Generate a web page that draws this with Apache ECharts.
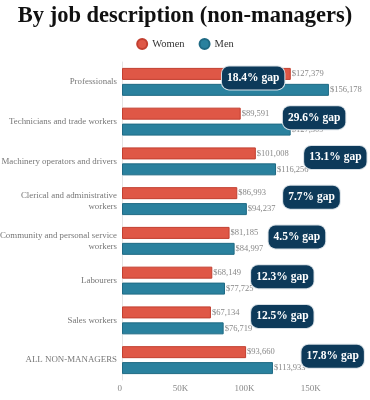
<!DOCTYPE html>
<html>
<head>
<meta charset="utf-8">
<script src="https://cdn.jsdelivr.net/npm/echarts@6/dist/echarts.min.js"></script>
<style>html,body{margin:0;padding:0;background:#fff}#c{width:370px;height:400px}</style>
</head>
<body>
<div id="c"></div>
<script>
var categories = ['Professionals', 'Technicians and trade workers', 'Machinery operators and drivers', 'Clerical and administrative\nworkers', 'Community and personal service\nworkers', 'Labourers', 'Sales workers', 'ALL NON-MANAGERS'];
var women = [127379, 89591, 101008, 86993, 81185, 68149, 67134, 93660];
var men = [156178, 127309, 116256, 94237, 84997, 77725, 76719, 113933];
var gapText = ['18.4% gap', '29.6% gap', '13.1% gap', '7.7% gap', '4.5% gap', '12.3% gap', '12.5% gap', '17.8% gap'];
var badgeX = [99000, 145000, 161000, 143000, 132000, 121000, 121000, 159000];
var xTicks = [0, 50000, 100000, 150000];

var font = '"Liberation Serif", "DejaVu Serif", serif';
var chart = echarts.init(document.getElementById('c'));
function money(v) { return '$' + v.toLocaleString('en-US'); }
chart.setOption({
  animation: false,
  title: {
    text: 'By job description (non-managers)',
    left: 'center', top: 0,
    textStyle: { fontFamily: font, fontWeight: 'bold', fontSize: 22.5, color: '#111' }
  },
  legend: {
    top: 33, left: 'center', icon: 'circle', itemWidth: 10, itemHeight: 10, itemGap: 14,
    textStyle: { fontFamily: font, fontSize: 10.5, color: '#333' },
    data: ['Women', 'Men']
  },
  grid: { left: 122, right: 9.5, top: 62, bottom: 20, containLabel: false, outerBoundsMode: 'none' },
  xAxis: {
    type: 'value', min: 0, max: 180000, interval: 50000,
    splitLine: { show: false }, axisLine: { show: false }, axisTick: { show: false },
    axisLabel: {
      fontFamily: font, fontSize: 9, color: '#888', align: 'right', margin: 4,
      formatter: function (v) { return xTicks.indexOf(v) < 0 ? '' : (v === 0 ? '0' : (v / 1000) + 'K'); }
    }
  },
  yAxis: {
    type: 'category', inverse: true, data: categories,
    axisLine: { show: true, lineStyle: { color: '#e4e4e4' } }, axisTick: { show: false },
    axisLabel: { fontFamily: font, fontSize: 8.9, color: '#777', margin: 5, lineHeight: 11, align: 'right' }
  },
  series: [
    {
      name: 'Women', type: 'bar', data: women, barWidth: 12, barGap: '33%',
      itemStyle: { color: '#df5746', borderColor: '#c23f30', borderWidth: 1 },
      label: { show: true, position: 'right', distance: 1, fontFamily: font, fontSize: 8.5, color: '#888', formatter: function (p) { return money(p.value); } }
    },
    {
      name: 'Men', type: 'bar', data: men, barWidth: 12,
      itemStyle: { color: '#2a819e', borderColor: '#1f6a84', borderWidth: 1 },
      label: { show: true, position: 'right', distance: 1, fontFamily: font, fontSize: 8.5, color: '#888', formatter: function (p) { return money(p.value); } }
    },
    {
      name: 'gap', type: 'scatter', symbolSize: 1, itemStyle: { color: 'rgba(0,0,0,0)', opacity: 1 }, z: 10,
      data: badgeX.map(function (x, i) { return [x, i]; }),
      emphasis: { disabled: true },
      label: {
        show: true, position: 'inside', offset: [0, -4],
        formatter: function (p) { return gapText[p.dataIndex]; },
        fontFamily: font, fontWeight: 'bold', fontSize: 11.5, color: '#fff',
        backgroundColor: '#0d3a5a', borderColor: '#d8e0e6', borderWidth: 1, borderRadius: 7,
        padding: [6, 5, 5, 5]
      },
      tooltip: { show: false }
    }
  ]
});
</script>
</body>
</html>
